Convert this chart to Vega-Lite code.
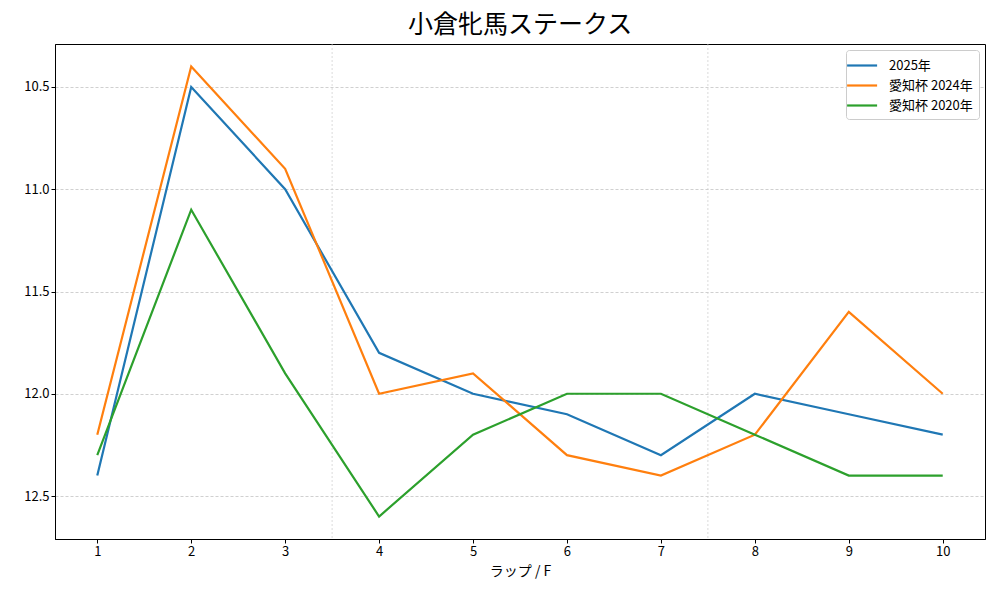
{
  "$schema": "https://vega.github.io/schema/vega-lite/v6.json",
  "width": 930,
  "height": 495,
  "autosize": "none",
  "padding": {"left": 55, "top": 44, "right": 15, "bottom": 61},
  "background": "white",
  "config": {
    "font": "Noto Sans CJK JP",
    "view": {"stroke": "black", "strokeWidth": 1},
    "axis": {
      "domainColor": "black",
      "tickColor": "black",
      "tickSize": 4,
      "labelFontSize": 13,
      "labelColor": "black",
      "titleFontSize": 14,
      "titleFontWeight": "normal",
      "titleColor": "black"
    }
  },
  "title": {"text": "小倉牝馬ステークス", "fontSize": 25, "fontWeight": "normal", "color": "black", "offset": 6},
  "layer": [
    {
      "data": {"values": [{"x": 3.5}, {"x": 7.5}]},
      "mark": {"type": "rule", "color": "#cccccc", "strokeWidth": 0.7, "strokeDash": [2, 2]},
      "encoding": {
        "x": {"field": "x", "type": "quantitative", "scale": {"domain": [0.55, 10.45], "nice": false, "zero": false}}
      }
    },
    {
      "data": {
        "values": [
          {"lap": 1, "series": "2025年", "time": 12.4},
          {"lap": 2, "series": "2025年", "time": 10.5},
          {"lap": 3, "series": "2025年", "time": 11.0},
          {"lap": 4, "series": "2025年", "time": 11.8},
          {"lap": 5, "series": "2025年", "time": 12.0},
          {"lap": 6, "series": "2025年", "time": 12.1},
          {"lap": 7, "series": "2025年", "time": 12.3},
          {"lap": 8, "series": "2025年", "time": 12.0},
          {"lap": 9, "series": "2025年", "time": 12.1},
          {"lap": 10, "series": "2025年", "time": 12.2},
          {"lap": 1, "series": "愛知杯 2024年", "time": 12.2},
          {"lap": 2, "series": "愛知杯 2024年", "time": 10.4},
          {"lap": 3, "series": "愛知杯 2024年", "time": 10.9},
          {"lap": 4, "series": "愛知杯 2024年", "time": 12.0},
          {"lap": 5, "series": "愛知杯 2024年", "time": 11.9},
          {"lap": 6, "series": "愛知杯 2024年", "time": 12.3},
          {"lap": 7, "series": "愛知杯 2024年", "time": 12.4},
          {"lap": 8, "series": "愛知杯 2024年", "time": 12.2},
          {"lap": 9, "series": "愛知杯 2024年", "time": 11.6},
          {"lap": 10, "series": "愛知杯 2024年", "time": 12.0},
          {"lap": 1, "series": "愛知杯 2020年", "time": 12.3},
          {"lap": 2, "series": "愛知杯 2020年", "time": 11.1},
          {"lap": 3, "series": "愛知杯 2020年", "time": 11.9},
          {"lap": 4, "series": "愛知杯 2020年", "time": 12.6},
          {"lap": 5, "series": "愛知杯 2020年", "time": 12.2},
          {"lap": 6, "series": "愛知杯 2020年", "time": 12.0},
          {"lap": 7, "series": "愛知杯 2020年", "time": 12.0},
          {"lap": 8, "series": "愛知杯 2020年", "time": 12.2},
          {"lap": 9, "series": "愛知杯 2020年", "time": 12.4},
          {"lap": 10, "series": "愛知杯 2020年", "time": 12.4}
        ]
      },
      "mark": {"type": "line", "strokeWidth": 2.2},
      "encoding": {
        "x": {
          "field": "lap", "type": "quantitative", "title": "ラップ / F",
          "scale": {"domain": [0.55, 10.45], "nice": false, "zero": false},
          "axis": {"values": [1, 2, 3, 4, 5, 6, 7, 8, 9, 10], "format": "d", "grid": false, "labelFlush": false, "titlePadding": 6}
        },
        "y": {
          "field": "time", "type": "quantitative", "title": null,
          "scale": {"domain": [10.29, 12.71], "nice": false, "zero": false, "reverse": true},
          "axis": {"values": [10.5, 11.0, 11.5, 12.0, 12.5], "format": ".1f", "grid": true, "gridColor": "#b0b0b0", "gridDash": [3, 2], "gridWidth": 0.6, "labelFlush": false}
        },
        "color": {
          "field": "series", "type": "nominal",
          "scale": {"domain": ["2025年", "愛知杯 2024年", "愛知杯 2020年"], "range": ["#1f77b4", "#ff7f0e", "#2ca02c"]},
          "legend": {
            "title": null, "orient": "top-right", "offset": 6,
            "symbolType": "M-1.8,0H1.95", "symbolStrokeWidth": 2.2, "symbolSize": 256,
            "labelFontSize": 13, "labelColor": "black", "labelOffset": 18,
            "strokeColor": "#cccccc", "fillColor": "white", "cornerRadius": 3,
            "padding": 6, "rowPadding": 3
          }
        }
      }
    }
  ]
}
